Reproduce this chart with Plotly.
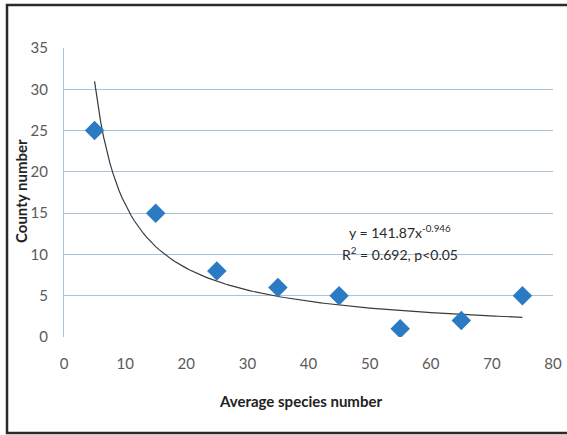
import plotly.graph_objects as go

# Data
species = [5, 15, 25, 35, 45, 55, 65, 75]
county = [25, 15, 8, 6, 5, 1, 2, 5]

# Power trendline as stated on the chart: y = a * x^b
fit_a = 141.87
fit_b = -0.946
fit_x = [5 + i * 0.5 for i in range(141)]
fit_y = [fit_a * x ** fit_b for x in fit_x]

x_ticks = [0, 10, 20, 30, 40, 50, 60, 70, 80]
y_ticks = [0, 5, 10, 15, 20, 25, 30, 35]

W, H = 567, 435
ml, mr, mt, mb = 64, W - 553, 48, H - 337
pw = W - ml - mr
ph = H - mt - mb


def px_x(p):
    return (p - ml) / pw


def px_y(p):
    return (H - mb - p) / ph


fig = go.Figure()
fig.add_trace(go.Scatter(x=fit_x, y=fit_y, mode="lines",
                         line=dict(color="#3a3a3a", width=1.2),
                         hoverinfo="skip", showlegend=False))
fig.add_trace(go.Scatter(x=species, y=county, mode="markers",
                         marker=dict(symbol="diamond", size=15, color="#2a7bc4",
                                     line=dict(width=0)),
                         showlegend=False))

fig.add_annotation(x=55, y=12.8, xref="x", yref="y",
                   text="y = 141.87x<sup>-0.946</sup>", showarrow=False,
                   font=dict(family="Lato, sans-serif", size=14, color="#2a2a2a"))
fig.add_annotation(x=55, y=10.1, xref="x", yref="y",
                   text="R<sup>2</sup> = 0.692, p<0.05", showarrow=False,
                   font=dict(family="Lato, sans-serif", size=14, color="#2a2a2a"))

# axis titles
fig.add_annotation(x=px_x(300), y=px_y(401), xref="paper", yref="paper",
                   xanchor="center", yanchor="middle",
                   text="<b>Average species number</b>", showarrow=False,
                   font=dict(family="Lato, sans-serif", size=15, color="#222222"))
fig.add_annotation(x=px_x(21), y=px_y(191), xref="paper", yref="paper",
                   xanchor="center", yanchor="middle",
                   text="<b>County number</b>", showarrow=False, textangle=-90,
                   font=dict(family="Lato, sans-serif", size=15, color="#222222"))

# outer frame
fig.add_shape(type="rect", xref="paper", yref="paper",
              x0=px_x(7), x1=px_x(575), y0=px_y(433), y1=px_y(5),
              line=dict(color="#2b2b2b", width=2.5), fillcolor="rgba(0,0,0,0)",
              layer="below")

fig.update_layout(
    width=W, height=H,
    margin=dict(l=ml, r=mr, t=mt, b=mb),
    paper_bgcolor="white", plot_bgcolor="white",
    font=dict(family="Lato, sans-serif", size=15, color="#5a5a5a"),
    xaxis=dict(range=[0, 80], tickvals=x_ticks, showgrid=False, zeroline=False,
               showline=False, ticks="", ticklen=0, automargin=False,
               ticklabelstandoff=16),
    yaxis=dict(range=[0, 35], tickvals=y_ticks, showgrid=True,
               gridcolor="#a9c3d9", gridwidth=1.3, zeroline=False,
               showline=True, linecolor="#a9c3d9", linewidth=1.3, ticks="",
               automargin=False, ticklabelstandoff=12),
)

fig.write_html("out.html", config={"displayModeBar": False},
               post_script="document.body.style.margin='0';")
